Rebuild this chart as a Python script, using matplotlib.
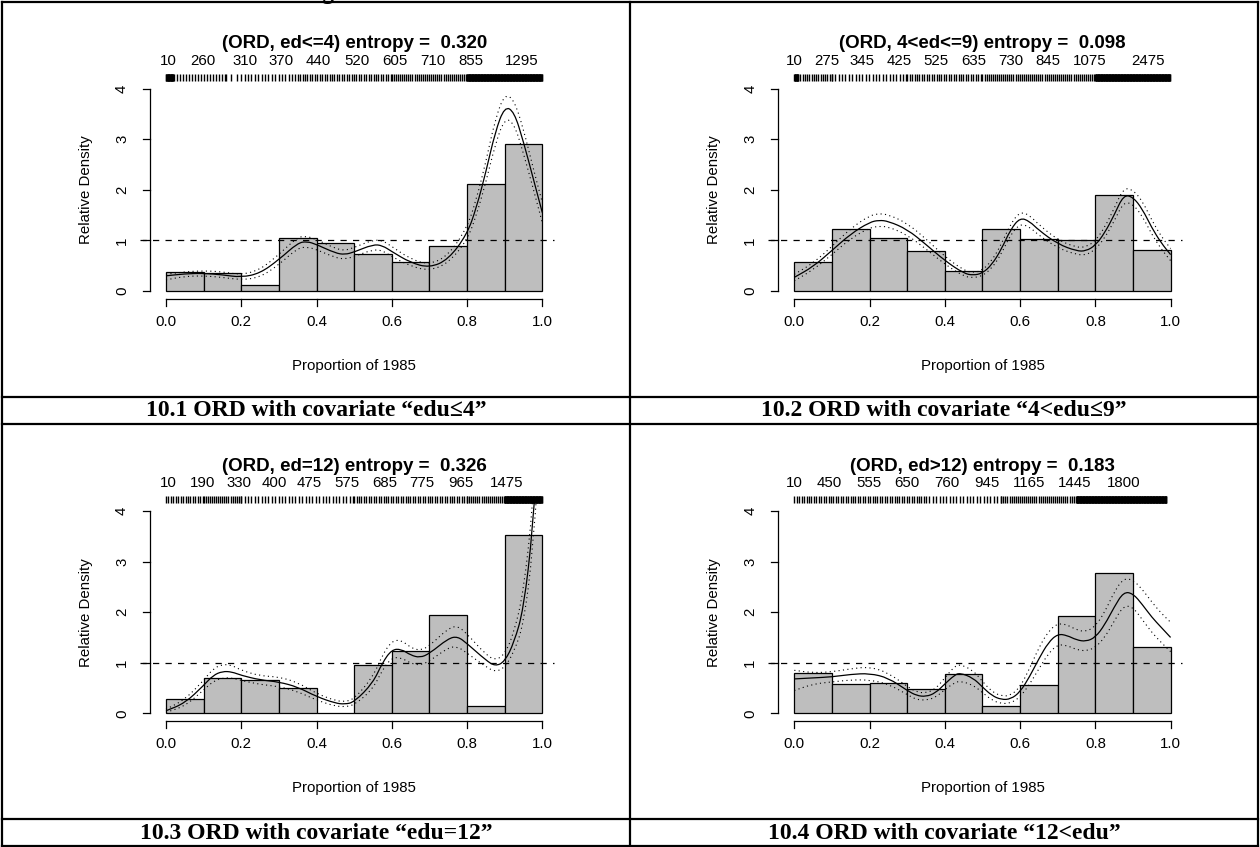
import numpy as np
import matplotlib
matplotlib.use("Agg")
import matplotlib.pyplot as plt
from matplotlib.lines import Line2D
from matplotlib.path import Path
from matplotlib.patches import PathPatch

W, H = 1260, 847

# ---------------- data ----------------
bin_left = [0.0, 0.1, 0.2, 0.3, 0.4, 0.5, 0.6, 0.7, 0.8, 0.9]
bin_width = 0.1
x_ticks = [0.0, 0.2, 0.4, 0.6, 0.8, 1.0]
x_tick_labels = ["0.0", "0.2", "0.4", "0.6", "0.8", "1.0"]
y_ticks = [0, 1, 2, 3, 4]
y_tick_labels = ["0", "1", "2", "3", "4"]

titles = ["(ORD, ed<=4) entropy =  0.320",
          "(ORD, 4<ed<=9) entropy =  0.098",
          "(ORD, ed=12) entropy =  0.326",
          "(ORD, ed>12) entropy =  0.183"]
captions = ["10.1 ORD with covariate \u201cedu\u22644\u201d",
            "10.2 ORD with covariate \u201c4<edu\u22649\u201d",
            "10.3 ORD with covariate \u201cedu=12\u201d",
            "10.4 ORD with covariate \u201c12<edu\u201d"]
x_label = "Proportion of 1985"
y_label = "Relative Density"

top_labels_1 = ["10", "260", "310", "370", "440", "520", "605", "710", "855", "1295"]
top_pos_1 = [0.007, 0.098, 0.21, 0.306, 0.405, 0.507, 0.609, 0.71, 0.81, 0.945]
top_labels_2 = ["10", "275", "345", "425", "525", "635", "730", "845", "1075", "2475"]
top_pos_2 = [0.001, 0.086, 0.18, 0.278, 0.377, 0.476, 0.576, 0.674, 0.785, 0.94]
top_labels_3 = ["10", "190", "330", "400", "475", "575", "685", "775", "965", "1475"]
top_pos_3 = [0.007, 0.098, 0.194, 0.287, 0.38, 0.482, 0.582, 0.68, 0.784, 0.904]
top_labels_4 = ["10", "450", "555", "650", "760", "945", "1165", "1445", "1800"]
top_pos_4 = [0.001, 0.092, 0.198, 0.299, 0.405, 0.511, 0.623, 0.745, 0.875]

bars_1 = [0.37, 0.35, 0.11, 1.05, 0.94, 0.74, 0.57, 0.89, 2.11, 2.90]
bars_2 = [0.57, 1.22, 1.05, 0.80, 0.39, 1.23, 1.03, 1.01, 1.89, 0.82]
bars_3 = [0.28, 0.69, 0.65, 0.51, 0.01, 0.96, 1.24, 1.94, 0.15, 3.53]
bars_4 = [0.79, 0.57, 0.59, 0.49, 0.78, 0.15, 0.56, 1.92, 2.77, 1.31]

curve_x_1 = [0, 0.05, 0.1, 0.15, 0.2, 0.25, 0.3, 0.35, 0.375, 0.4, 0.45, 0.475, 0.5, 0.55,
             0.575, 0.6, 0.65, 0.7, 0.75, 0.8, 0.825, 0.85, 0.875, 0.9, 0.925, 0.95, 0.975, 1.0]
curve_1 = [0.30, 0.34, 0.35, 0.32, 0.27, 0.35, 0.62, 0.95, 0.98, 0.92, 0.75, 0.72, 0.77, 0.92,
           0.90, 0.78, 0.56, 0.46, 0.62, 1.12, 1.65, 2.35, 3.15, 3.65, 3.55, 2.95, 2.25, 1.55]
upper_1 = [0.33, 0.38, 0.40, 0.38, 0.32, 0.42, 0.72, 1.07, 1.08, 1.02, 0.84, 0.80, 0.86, 1.01,
           1.00, 0.88, 0.63, 0.52, 0.70, 1.25, 1.82, 2.55, 3.40, 3.90, 3.78, 3.20, 2.45, 1.75]
lower_1 = [0.22, 0.29, 0.30, 0.27, 0.22, 0.27, 0.52, 0.85, 0.87, 0.82, 0.66, 0.63, 0.68, 0.82,
           0.80, 0.68, 0.49, 0.40, 0.55, 1.00, 1.50, 2.15, 2.90, 3.42, 3.32, 2.72, 2.05, 1.35]

curve_x_2 = [0, 0.05, 0.1, 0.15, 0.2, 0.225, 0.25, 0.3, 0.35, 0.4, 0.45, 0.475, 0.5, 0.525, 0.55,
             0.575, 0.6, 0.625, 0.65, 0.7, 0.75, 0.775, 0.8, 0.825, 0.85, 0.875, 0.9, 0.925, 0.95,
             0.975, 1.0]
curve_2 = [0.27, 0.48, 0.80, 1.13, 1.36, 1.40, 1.38, 1.22, 0.92, 0.60, 0.35, 0.31, 0.35, 0.52, 0.82,
           1.22, 1.45, 1.38, 1.20, 0.93, 0.79, 0.79, 0.90, 1.15, 1.50, 1.90, 1.86, 1.62, 1.25,
           0.95, 0.72]
upper_2 = [0.33, 0.55, 0.88, 1.24, 1.49, 1.53, 1.51, 1.34, 1.03, 0.68, 0.41, 0.36, 0.41, 0.60, 0.92,
           1.33, 1.57, 1.50, 1.31, 1.01, 0.86, 0.87, 0.99, 1.26, 1.63, 2.04, 2.00, 1.78, 1.40,
           1.08, 0.84]
lower_2 = [0.20, 0.42, 0.72, 1.04, 1.25, 1.28, 1.27, 1.11, 0.83, 0.53, 0.29, 0.26, 0.30, 0.45, 0.73,
           1.12, 1.33, 1.27, 1.10, 0.85, 0.72, 0.71, 0.82, 1.05, 1.38, 1.76, 1.72, 1.48, 1.12,
           0.83, 0.60]

curve_x_3 = [0, 0.05, 0.1, 0.125, 0.15, 0.175, 0.2, 0.25, 0.3, 0.35, 0.4, 0.45, 0.475, 0.5, 0.55,
             0.575, 0.6, 0.625, 0.65, 0.675, 0.7, 0.75, 0.775, 0.8, 0.85, 0.875, 0.9, 0.925, 0.95,
             0.975, 1.0]
curve_3 = [0.05, 0.20, 0.55, 0.75, 0.83, 0.82, 0.75, 0.66, 0.62, 0.52, 0.33, 0.20, 0.18, 0.22, 0.60,
           1.00, 1.26, 1.27, 1.15, 1.10, 1.18, 1.48, 1.52, 1.38, 1.05, 0.93, 1.02, 1.40, 2.05,
           3.65, 6.50]
upper_3 = [0.08, 0.27, 0.65, 0.88, 0.97, 0.95, 0.85, 0.74, 0.72, 0.61, 0.39, 0.25, 0.23, 0.28, 0.72,
           1.15, 1.43, 1.45, 1.30, 1.24, 1.33, 1.68, 1.73, 1.57, 1.16, 1.05, 1.16, 1.60, 2.40,
           4.10, 7.00]
lower_3 = [0.02, 0.14, 0.46, 0.63, 0.70, 0.70, 0.65, 0.57, 0.53, 0.43, 0.26, 0.14, 0.13, 0.16, 0.48,
           0.86, 1.10, 1.10, 0.99, 0.95, 1.03, 1.30, 1.32, 1.19, 0.92, 0.82, 0.90, 1.22, 1.75,
           3.20, 6.00]

curve_x_4 = [0, 0.05, 0.1, 0.15, 0.2, 0.25, 0.3, 0.325, 0.35, 0.375, 0.4, 0.425, 0.44, 0.475, 0.5,
             0.525, 0.55, 0.575, 0.6, 0.625, 0.65, 0.675, 0.7, 0.725, 0.75, 0.775, 0.8, 0.825,
             0.85, 0.875, 0.9, 0.925, 0.95, 0.975, 1.0]
curve_4 = [0.68, 0.70, 0.72, 0.77, 0.79, 0.70, 0.45, 0.35, 0.33, 0.40, 0.58, 0.75, 0.80, 0.70, 0.52,
           0.35, 0.27, 0.28, 0.42, 0.72, 1.08, 1.40, 1.57, 1.54, 1.45, 1.42, 1.50, 1.75,
           2.10, 2.40, 2.37, 2.15, 1.90, 1.70, 1.50]
upper_4 = [0.85, 0.80, 0.82, 0.88, 0.92, 0.80, 0.53, 0.42, 0.40, 0.48, 0.70, 0.92, 0.97, 0.85, 0.63,
           0.43, 0.34, 0.35, 0.52, 0.88, 1.30, 1.62, 1.78, 1.75, 1.65, 1.61, 1.72, 2.00,
           2.40, 2.67, 2.64, 2.45, 2.20, 1.98, 1.80]
lower_4 = [0.45, 0.58, 0.62, 0.66, 0.66, 0.58, 0.37, 0.27, 0.26, 0.31, 0.47, 0.60, 0.64, 0.56, 0.41,
           0.26, 0.19, 0.20, 0.32, 0.57, 0.88, 1.18, 1.36, 1.34, 1.26, 1.23, 1.30, 1.50,
           1.82, 2.13, 2.10, 1.85, 1.60, 1.40, 1.22]

# rug read as bands: (start, end, spacing between ticks)
rug_1 = [(0.0, 0.02, 0.001), (0.02, 0.16, 0.008), (0.16, 0.20, 0.014), (0.20, 0.35, 0.009),
         (0.35, 0.60, 0.0065), (0.60, 0.80, 0.0055), (0.80, 1.0, 0.001)]
rug_2 = [(0.0, 0.01, 0.001), (0.01, 0.10, 0.006), (0.10, 0.30, 0.009), (0.30, 0.50, 0.0065),
         (0.50, 0.80, 0.0055), (0.80, 1.0, 0.001)]
rug_3 = [(0.0, 0.10, 0.0065), (0.10, 0.20, 0.0055), (0.20, 0.50, 0.009), (0.50, 0.80, 0.0065),
         (0.80, 0.90, 0.0055), (0.90, 1.0, 0.001)]
rug_4 = [(0.0, 0.35, 0.0065), (0.35, 0.55, 0.009), (0.55, 0.75, 0.0055), (0.75, 0.99, 0.001)]

panels = [
    (bars_1, curve_x_1, curve_1, upper_1, lower_1, rug_1, top_labels_1, top_pos_1),
    (bars_2, curve_x_2, curve_2, upper_2, lower_2, rug_2, top_labels_2, top_pos_2),
    (bars_3, curve_x_3, curve_3, upper_3, lower_3, rug_3, top_labels_3, top_pos_3),
    (bars_4, curve_x_4, curve_4, upper_4, lower_4, rug_4, top_labels_4, top_pos_4),
]

# ---------------- layout (pixels) ----------------
fig = plt.figure(figsize=(W / 100, H / 100), dpi=100)
fig.patch.set_facecolor("white")

X0, SX = 166.0, 376.3      # data x=0 pixel, pixels per unit (panel 1)
Y0, SY = 291.0, 50.575     # data y=0 pixel, pixels per unit (panel 1)
offsets = [(0, 0), (628.3, 0), (0, 422.3), (628.3, 422.3)]

SANS = ["Liberation Sans", "DejaVu Sans"]
SERIF = ["Liberation Serif", "DejaVu Serif"]
FS = 10.8


def dx(px):
    return (px - X0) / SX


def dy(py):
    return (Y0 - py) / SY


def smooth_path(x, y):
    """Quadratic-Bezier rendering of a polyline (smooth look, same points)."""
    pts = list(zip(x, y))
    mids = [((pts[k][0] + pts[k + 1][0]) / 2, (pts[k][1] + pts[k + 1][1]) / 2)
            for k in range(len(pts) - 1)]
    verts = [pts[0], mids[0]]
    codes = [Path.MOVETO, Path.LINETO]
    for k in range(1, len(pts) - 1):
        verts += [pts[k], mids[k]]
        codes += [Path.CURVE3, Path.CURVE3]
    verts.append(pts[-1])
    codes.append(Path.LINETO)
    return Path(verts, codes)


for i, (dxo, dyo) in enumerate(offsets):
    bars, cx, cc, cu, cl, rug, tl, tp = panels[i]
    left = X0 - 0.04 * SX + dxo
    right = X0 + 1.04 * SX + dxo
    top = Y0 - 4.16 * SY + dyo
    bottom = Y0 + 0.16 * SY + dyo
    ax = fig.add_axes([left / W, 1 - bottom / H, (right - left) / W, (bottom - top) / H])
    ax.set_xlim(-0.04, 1.04)
    ax.set_ylim(-0.16, 4.16)
    ax.set_axis_off()

    ax.bar(bin_left, bars, width=bin_width, align="edge", color="#bebebe",
           edgecolor="black", linewidth=0.9, zorder=1)
    for yy in (cu, cl):
        ax.add_patch(PathPatch(smooth_path(cx, yy), fill=False, edgecolor="black",
                               lw=0.8, linestyle=(0, (1, 3)), zorder=2))
    ax.add_patch(PathPatch(smooth_path(cx, cc), fill=False, edgecolor="black",
                           lw=0.9, zorder=2))
    ax.plot([dx(140), dx(554)], [1, 1], color="black", lw=0.9, ls=(0, (5, 5)),
            zorder=3, clip_on=False)

    # rug along the top
    pos = np.concatenate([np.arange(a, b, s) for a, b, s in rug])
    ax.vlines(pos, 4.16, 4.16 + 6.5 / SY, color="black", lw=1.0, clip_on=False)

    # x axis
    ax.plot([0, 1], [-0.16, -0.16], color="black", lw=0.9, clip_on=False)
    for t, lab in zip(x_ticks, x_tick_labels):
        ax.plot([t, t], [-0.16, -0.16 - 7 / SY], color="black", lw=0.9, clip_on=False)
        ax.text(t, dy(322), lab, ha="center", va="center", fontsize=FS, family=SANS)
    ax.text(0.5, dy(366), x_label, ha="center", va="center", fontsize=FS, family=SANS)

    # y axis
    xa = dx(149.5)
    ax.plot([xa, xa], [0, 4], color="black", lw=0.9, clip_on=False)
    for t, lab in zip(y_ticks, y_tick_labels):
        ax.plot([xa, xa - 7 / SX], [t, t], color="black", lw=0.9, clip_on=False)
        ax.text(dx(122), t, lab, ha="center", va="center", rotation=90, fontsize=FS, family=SANS)
    ax.text(dx(86), 2, y_label, ha="center", va="center", rotation=90, fontsize=FS, family=SANS)

    # top quantile labels and title
    for p, lab in zip(tp, tl):
        ax.text(p, dy(61), lab, ha="center", va="center", fontsize=FS, family=SANS)
    ax.text(0.5, dy(44), titles[i], ha="center", va="center", fontsize=13.5,
            fontweight="bold", family=SANS)

# ---------------- table frame and captions ----------------
def hline(y, x0=2, x1=1257.5, lw=1.6):
    fig.add_artist(Line2D([x0 / W, x1 / W], [1 - y / H, 1 - y / H], color="black", lw=lw))


def vline(x, y0=2, y1=846, lw=1.6):
    fig.add_artist(Line2D([x / W, x / W], [1 - y0 / H, 1 - y1 / H], color="black", lw=lw))


for yy in [2, 397, 424, 819, 846]:
    hline(yy)
for xx in [2, 630, 1257.5]:
    vline(xx)

cap_pos = [(316, 410.5), (944, 410.5), (316, 833), (944, 833)]
for (cxp, cyp), txt in zip(cap_pos, captions):
    fig.text(cxp / W, 1 - cyp / H, txt, ha="center", va="center", fontsize=17,
             fontweight="bold", family=SERIF)

# descender of a cut-off heading line above the frame (as in the reference)
fig.text(327 / W, 1 + 1.5 / H, "g", ha="center", va="baseline", fontsize=17,
         fontweight="bold", family=SERIF)

fig.savefig("out.png", dpi=100)
